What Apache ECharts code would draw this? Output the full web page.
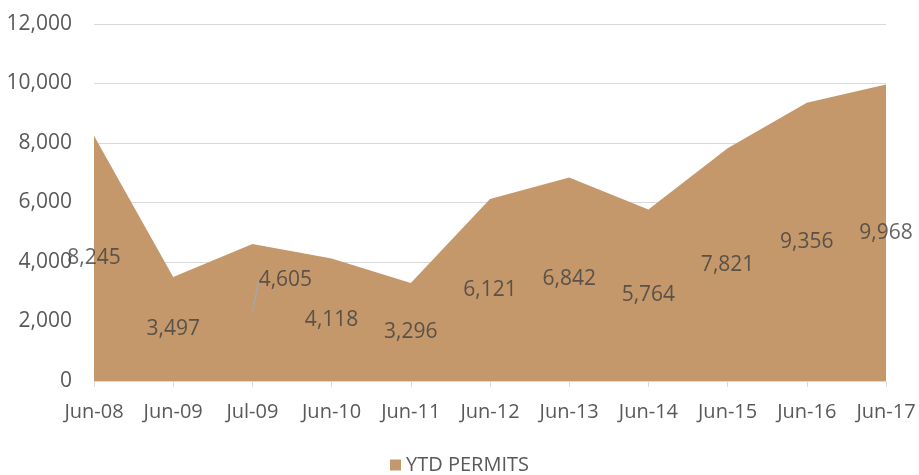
<!DOCTYPE html>
<html>
<head>
<meta charset="utf-8">
<script src="https://cdn.jsdelivr.net/npm/echarts@6/dist/echarts.min.js"></script>
<style>
    html, body { margin: 0; padding: 0; background: #fff; }
    #permitsChart { width: 919px; height: 475px; }
</style>
</head>
<body>
<div id="permitsChart"></div>
<script>
    /*YTD permits*/
    var months = ['Jun-08', 'Jun-09', 'Jul-09', 'Jun-10', 'Jun-11', 'Jun-12', 'Jun-13', 'Jun-14', 'Jun-15', 'Jun-16', 'Jun-17'];
    var permits = [8245, 3497, 4605, 4118, 3296, 6121, 6842, 5764, 7821, 9356, 9968];
    var yTicks = [0, 2000, 4000, 6000, 8000, 10000, 12000];

    var fontName = '"Open Sans", "Noto Sans", sans-serif';

    function fmt(v) {
        return String(v).replace(/\B(?=(\d{3})+(?!\d))/g, ',');
    }

    // labels sit at half height of the area, like excel does
    var labelData = permits.map(function (v, i) {
        var item = { value: v / 2 };
        if (i === 2) {
            item.labelLine = { show: true };
        }
        return item;
    });

    var chart = echarts.init(document.getElementById('permitsChart'));
    var option = {
        animation: false,
        textStyle: { fontFamily: fontName },
        grid: {
            left: 94,
            right: 33,
            top: 24,
            bottom: 94
        },
        legend: {
            top: 450,
            left: 'center',
            itemWidth: 11,
            itemHeight: 11,
            icon: 'rect',
            data: ['YTD PERMITS'],
            textStyle: { color: '#595959', fontSize: 20, fontFamily: fontName }
        },
        xAxis: {
            type: 'category',
            boundaryGap: false,
            data: months,
            axisLine: { lineStyle: { color: '#d9d9d9', width: 1 } },
            axisTick: { show: true, length: 6, interval: 0, lineStyle: { color: '#d9d9d9' } },
            axisLabel: { color: '#595959', fontSize: 20, margin: 21, interval: 0, hideOverlap: false },
            splitLine: { show: false }
        },
        yAxis: {
            type: 'value',
            min: yTicks[0],
            max: yTicks[yTicks.length - 1],
            interval: 2000,
            axisLine: { show: false },
            axisTick: { show: false },
            axisLabel: {
                color: '#595959',
                fontSize: 21,
                margin: 22,
                formatter: function (v) { return fmt(v); }
            },
            splitLine: { lineStyle: { color: '#d9d9d9', width: 1 } }
        },
        series: [
            {
                name: 'YTD PERMITS',
                type: 'line',
                data: permits,
                symbol: 'none',
                lineStyle: { width: 0 },
                itemStyle: { color: '#c4986b' },
                areaStyle: { color: '#c4986b', opacity: 1 }
            },
            {
                name: 'labels',
                type: 'scatter',
                data: labelData,
                symbolSize: 0,
                silent: true,
                z: 5,
                label: {
                    show: true,
                    position: 'inside',
                    color: '#404040',
                    fontSize: 21,
                    formatter: function (p) { return fmt(permits[p.dataIndex]); }
                },
                labelLine: {
                    show: false,
                    lineStyle: { color: '#a6a6a6', width: 1.5 }
                },
                labelLayout: function (p) {
                    if (p.dataIndex === 2) {
                        return { dx: 33, dy: -32 };
                    }
                    return {};
                }
            }
        ]
    };
    chart.setOption(option);
</script>
</body>
</html>
